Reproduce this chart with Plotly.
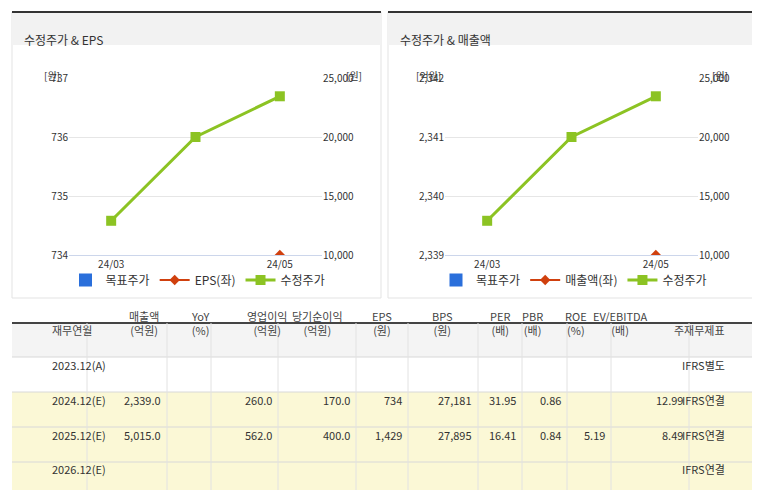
import plotly.graph_objects as go

W, H = 760, 490
FONT = "Noto Sans CJK KR"

months = ["24/03", "24/04", "24/05"]
price = [12900, 20000, 23450]
eps = [None, None, 734]
sales = [None, None, 2339]

headers = ["재무연월", "매출액<br>(억원)", "YoY<br>(%)", "영업이익<br>(억원)", "당기순이익<br>(억원)",
           "EPS<br>(원)", "BPS<br>(원)", "PER<br>(배)", "PBR<br>(배)", "ROE<br>(%)",
           "EV/EBITDA<br>(배)", "주재무제표"]
periods = ["2023.12(A)", "2024.12(E)", "2025.12(E)", "2026.12(E)"]
rows = [
    ["", "", "", "", "", "", "", "", "", "", "IFRS별도"],
    ["2,339.0", "", "260.0", "170.0", "734", "27,181", "31.95", "0.86", "", "12.99", "IFRS연결"],
    ["5,015.0", "", "562.0", "400.0", "1,429", "27,895", "16.41", "0.84", "5.19", "8.49", "IFRS연결"],
    ["", "", "", "", "", "", "", "", "", "", "IFRS연결"],
]


def px(x):
    return x / W


def py(y):
    return 1 - y / H


fig = go.Figure()
shapes, ann = [], []

# chart panels
panels = [(4, 373, "수정주가 & EPS", "EPS(좌)", eps, [734, 737], ["734", "735", "736", "737"], 0),
          (380, 749, "수정주가 & 매출액", "매출액(좌)", sales, [2339, 2342], ["2,339", "2,340", "2,341", "2,342"], 376)]
for i, (x0, x1, title, lname, left_vals, lrange, lticks, off) in enumerate(panels):
    shapes.append(dict(type="rect", xref="paper", yref="paper", x0=px(x0), x1=px(x1), y0=py(290), y1=py(4),
                       line=dict(color="#e3e3e3", width=1), fillcolor="white", layer="below"))
    shapes.append(dict(type="rect", xref="paper", yref="paper", x0=px(x0), x1=px(x1), y0=py(37), y1=py(5),
                       line=dict(width=0), fillcolor="#f2f2f2", layer="below"))
    shapes.append(dict(type="line", xref="paper", yref="paper", x0=px(x0), x1=px(x1), y0=py(4), y1=py(4),
                       line=dict(color="#333", width=2)))
    ann.append(dict(x=px(x0 + 10), y=py(21), xref="paper", yref="paper", text=title, showarrow=False,
                    xanchor="left", font=dict(size=12, color="#333")))
    ann.append(dict(x=px(44 + off), y=py(58), xref="paper", yref="paper", text="[원]" if i == 0 else "[억원]",
                    showarrow=False, xanchor="center", font=dict(size=10, color="#333")))
    ann.append(dict(x=px(346 + off), y=py(58), xref="paper", yref="paper", text="[원]",
                    showarrow=False, font=dict(size=10, color="#333")))

    n = 2 * i + 1
    xa, ya, ya2 = f"x{n if n > 1 else ''}", f"y{n if n > 1 else ''}", f"y{n + 1}"
    leg = "legend" if i == 0 else "legend2"
    fig.add_trace(go.Scatter(x=[None], y=[None], mode="markers", name="목표주가", xaxis=xa, yaxis=ya,
                             marker=dict(symbol="square", size=13, color="#2a6fdb"), legend=leg))
    fig.add_trace(go.Scatter(x=months, y=left_vals, mode="markers+lines", name=lname, xaxis=xa, yaxis=ya,
                             marker=dict(symbol="diamond", size=8, color="#d0400e"),
                             line=dict(color="#d0400e", width=2), legend=leg))
    fig.add_trace(go.Scatter(x=months, y=price, mode="markers+lines", name="수정주가", xaxis=xa, yaxis=ya2,
                             marker=dict(symbol="square", size=10, color="#8cc323"),
                             line=dict(color="#8cc323", width=3), legend=leg))

    dom = [px(61 + off), px(314 + off)]
    ydom = [py(247), py(70)]
    fig.layout[f"xaxis{n if n > 1 else ''}"] = dict(
        domain=dom, anchor=ya, type="category", range=[-0.5, 2.5], tickvals=months,
        ticktext=["24/03", "", "24/05"], showgrid=False, showline=True, linecolor="#ccd6eb",
        tickfont=dict(size=10, color="#333"), fixedrange=True, automargin=False)
    fig.layout[f"yaxis{n if n > 1 else ''}"] = dict(
        domain=ydom, anchor=xa, range=lrange, tickvals=list(range(lrange[0], lrange[1] + 1)),
        ticktext=lticks, gridcolor="#e6e6e6", zeroline=False, tickfont=dict(size=10, color="#333"),
        automargin=False)
    fig.layout[f"yaxis{n + 1}"] = dict(
        domain=ydom, anchor=xa, overlaying=ya, side="right", range=[10000, 25000],
        tickvals=[10000, 15000, 20000, 25000], tickformat=",", showgrid=False, zeroline=False,
        tickfont=dict(size=10, color="#333"), automargin=False)
    fig.layout[leg] = dict(orientation="h", x=px(190 + off), xanchor="center", y=py(272), yanchor="middle",
                           xref="paper", yref="paper", font=dict(size=12, color="#333"),
                           bgcolor="rgba(0,0,0,0)")

# table
edges = [4, 79, 159, 203, 270, 348, 400, 470, 514, 559, 603, 681, 756]
row_edges = [315, 349, 384, 419, 454, 488]
fills = ["#f4f4f4", "#ffffff", "#fbf8d6", "#fbf8d6", "#fbf8d6"]
for r in range(5):
    shapes.append(dict(type="rect", xref="paper", yref="paper", x0=px(edges[0]), x1=px(edges[-1]),
                       y0=py(row_edges[r + 1]), y1=py(row_edges[r]), fillcolor=fills[r],
                       line=dict(width=0), layer="below"))
for y in row_edges[1:]:
    shapes.append(dict(type="line", xref="paper", yref="paper", x0=px(edges[0]), x1=px(edges[-1]),
                       y0=py(y), y1=py(y), line=dict(color="#d8d8d8", width=1)))
shapes.append(dict(type="line", xref="paper", yref="paper", x0=px(edges[0]), x1=px(edges[-1]),
                   y0=py(315), y1=py(315), line=dict(color="#444", width=2)))
for x in edges[1:-1]:
    shapes.append(dict(type="line", xref="paper", yref="paper", x0=px(x), x1=px(x),
                       y0=py(488), y1=py(315), line=dict(color="#e2e2e2", width=1)))

for c, h in enumerate(headers):
    ann.append(dict(x=px((edges[c] + edges[c + 1]) / 2), y=py(332), xref="paper", yref="paper", text=h,
                    showarrow=False, font=dict(size=11, color="#444")))
for r, p in enumerate(periods):
    yc = py((row_edges[r + 1] + row_edges[r + 2]) / 2)
    ann.append(dict(x=px((edges[0] + edges[1]) / 2), y=yc, xref="paper", yref="paper", text=p,
                    showarrow=False, font=dict(size=11, color="#333")))
    for c, v in enumerate(rows[r]):
        if not v:
            continue
        if c == 10:
            ann.append(dict(x=px((edges[11] + edges[12]) / 2), y=yc, xref="paper", yref="paper", text=v,
                            showarrow=False, font=dict(size=11, color="#333")))
        else:
            ann.append(dict(x=px(edges[c + 2] - 4), y=yc, xref="paper", yref="paper", text=v,
                            showarrow=False, xanchor="right", font=dict(size=11, color="#333")))

fig.update_layout(width=W, height=H, margin=dict(l=0, r=0, t=0, b=0, autoexpand=False),
                  plot_bgcolor="white", paper_bgcolor="white", font=dict(family=FONT),
                  shapes=shapes, annotations=ann, hovermode=False)
fig.write_html("out.html")
